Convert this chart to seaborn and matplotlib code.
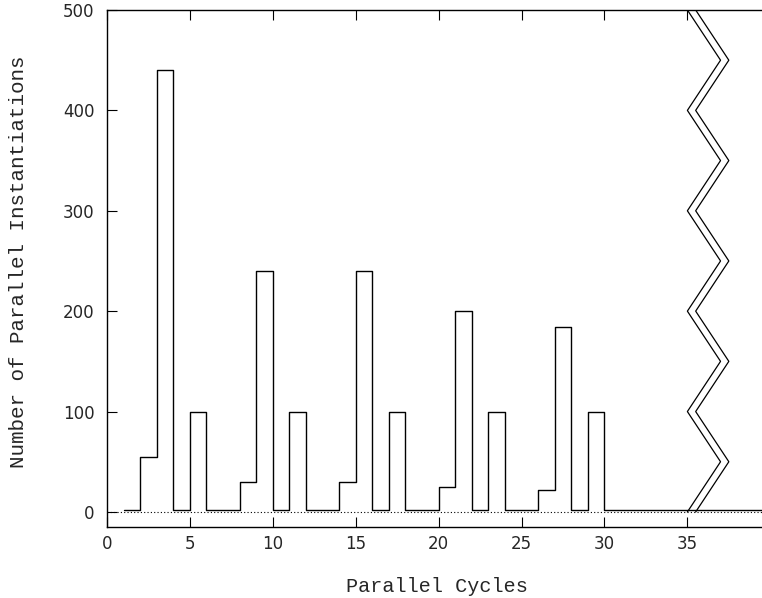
import matplotlib
matplotlib.use("Agg")
import matplotlib.pyplot as plt
import seaborn as sns
import pandas as pd

# Step histogram: value of each interval starting at cycle_start
cycle_start = [1, 2, 3, 4, 5, 6, 7, 8, 9, 10, 11, 12, 13, 14, 15, 16, 17, 18, 19, 20,
               21, 22, 23, 24, 25, 26, 27, 28, 29, 30, 39.5]
instantiations = [2, 55, 440, 2, 100, 2, 2, 30, 240, 2, 100, 2, 2, 30, 240, 2, 100, 2, 2, 25,
                  200, 2, 100, 2, 2, 22, 184, 2, 100, 2, 2]

# Axis-break zigzag (double line)
zig_y = [0, 50, 100, 150, 200, 250, 300, 350, 400, 450, 500]
zig_x_a = [35, 37, 35, 37, 35, 37, 35, 37, 35, 37, 35]
zig_x_b = [35.5, 37.5, 35.5, 37.5, 35.5, 37.5, 35.5, 37.5, 35.5, 37.5, 35.5]

x_ticks = [0, 5, 10, 15, 20, 25, 30, 35]
y_ticks = [0, 100, 200, 300, 400, 500]

sns.set_style("ticks")
plt.rcParams['font.family'] = ['DejaVu Sans']

fig = plt.figure(figsize=(7.62, 5.98), dpi=100)
ax = fig.add_axes([107 / 762, 71 / 598, 655 / 762, 517 / 598])

df = pd.DataFrame({"x": cycle_start, "y": instantiations})
sns.lineplot(data=df, x="x", y="y", ax=ax, color="black", linewidth=1.0,
             drawstyle="steps-post", estimator=None, sort=False)

za = pd.DataFrame({"x": zig_x_a, "y": zig_y})
zb = pd.DataFrame({"x": zig_x_b, "y": zig_y})
sns.lineplot(data=za, x="x", y="y", ax=ax, color="black", linewidth=0.9,
             estimator=None, sort=False)
sns.lineplot(data=zb, x="x", y="y", ax=ax, color="black", linewidth=0.9,
             estimator=None, sort=False)

ax.axhline(0, color="black", linestyle=(0, (1, 2)), linewidth=0.8)

ax.set_xlim(0, 39.5)
ax.set_ylim(-15, 500)
ax.set_xticks(x_ticks)
ax.set_yticks(y_ticks)
ax.tick_params(axis="both", direction="in", length=7, width=0.8, labelsize=12,
               top=True, right=False, color="black")
ax.tick_params(axis="x", pad=6)
ax.tick_params(axis="y", pad=9)
for s in ["left", "bottom", "top"]:
    ax.spines[s].set_visible(True)
    ax.spines[s].set_linewidth(1.0)
    ax.spines[s].set_color("black")
ax.spines["right"].set_visible(False)

ax.set_xlabel("Parallel Cycles", family=["Liberation Mono"], fontsize=14.5)
ax.set_ylabel("Number of Parallel Instantiations", family=["Liberation Mono"], fontsize=15)
ax.xaxis.set_label_coords(0.504, -0.097)
ax.yaxis.set_label_coords(-0.12, 0.514)

fig.savefig("out.png", dpi=100)
